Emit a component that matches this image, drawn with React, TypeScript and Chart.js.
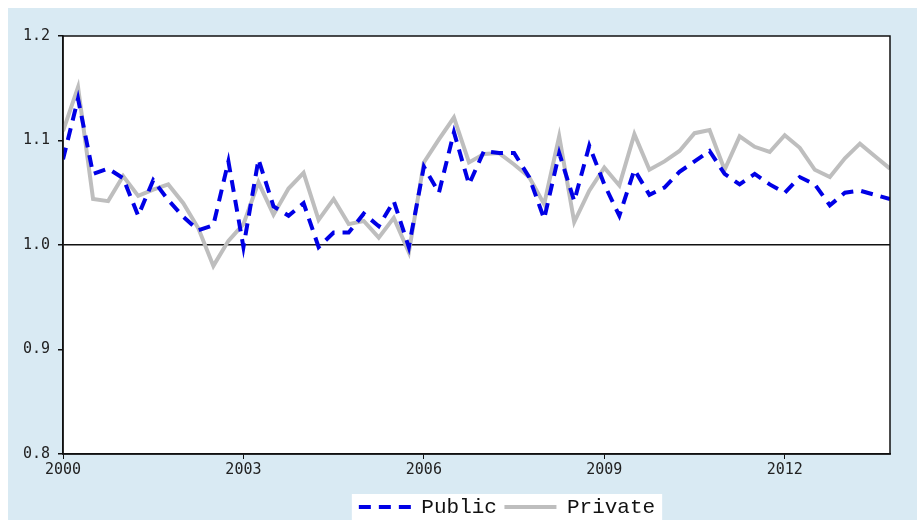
import React, { useEffect, useRef } from 'react';
import { Chart, registerables } from 'chart.js';
Chart.register(...registerables);

// Quarterly observations, 2000Q1 .. 2013Q4
const START_YEAR = 2000;
const QUARTERS_PER_YEAR = 4;
const xTickYears = [2000, 2003, 2006, 2009, 2012];
const yTickValues = [0.8, 0.9, 1.0, 1.1, 1.2];
const seriesNames = ['Public', 'Private'];

const publicValues = [
  1.082, 1.140, 1.068, 1.073, 1.064, 1.028, 1.062, 1.043,
  1.027, 1.014, 1.019, 1.080, 0.998, 1.082, 1.037, 1.028,
  1.040, 0.998, 1.012, 1.012, 1.030, 1.018, 1.042, 0.998,
  1.075, 1.050, 1.108, 1.058, 1.090, 1.088, 1.088, 1.065,
  1.025, 1.088, 1.042, 1.095, 1.058, 1.028, 1.072, 1.048,
  1.055, 1.070, 1.080, 1.090, 1.068, 1.058, 1.068, 1.058,
  1.050, 1.065, 1.058, 1.038, 1.050, 1.052, 1.048, 1.044,
];

const privateValues = [
  1.109, 1.151, 1.044, 1.042, 1.066, 1.047, 1.053, 1.058,
  1.040, 1.016, 0.980, 1.004, 1.020, 1.060, 1.029, 1.054,
  1.069, 1.024, 1.044, 1.020, 1.023, 1.007, 1.026, 0.993,
  1.079, 1.101, 1.122, 1.079, 1.087, 1.088, 1.077, 1.065,
  1.039, 1.104, 1.022, 1.052, 1.074, 1.057, 1.106, 1.072,
  1.080, 1.090, 1.107, 1.110, 1.072, 1.104, 1.094, 1.089,
  1.105, 1.093, 1.072, 1.065, 1.083, 1.097, 1.085, 1.073,
];

const BG = '#d9eaf3';
const BLUE = '#0000e6';
const GRAY = '#bebebe';
const BLUE_DASH = [12, 8];
const TICK_FONT = { family: '"DejaVu Sans Mono", monospace', size: 15 };
const LEGEND_FONT = { family: '"Liberation Mono", "Courier New", monospace', size: 21 };
const LEGEND_PAD = 7.5;

const toPoints = (vals: number[]) =>
  vals.map((y, i) => ({ x: START_YEAR + i / QUARTERS_PER_YEAR, y }));

const framePlugin = {
  id: 'frame',
  afterLayout(chart: any) {
    const lg = chart.legend;
    if (lg) {
      const shift = 499 - (lg.left + lg.right) / 2;
      lg.left += shift;
      lg.right += shift;
    }
  },
  beforeDraw(chart: any) {
    const { ctx, chartArea: a } = chart;
    ctx.save();
    ctx.fillStyle = '#ffffff';
    ctx.fillRect(a.left, a.top, a.right - a.left, a.bottom - a.top);
    const lg = chart.legend;
    if (lg && lg.lineWidths && lg.lineWidths.length) {
      const L = lg.lineWidths[0];
      const sx = (lg.left + LEGEND_PAD + lg.right - L) / 2;
      ctx.fillRect(sx - 7, lg.top + 5, L - LEGEND_PAD + 14, chart.height - lg.top - 5);
    }
    ctx.restore();
  },
  afterDraw(chart: any) {
    const { ctx, chartArea: a } = chart;
    ctx.save();
    ctx.strokeStyle = '#111';
    ctx.lineWidth = 1.5;
    ctx.strokeRect(a.left, a.top, a.right - a.left, a.bottom - a.top);
    ctx.restore();
  },
};

export default function App() {
  const ref = useRef<HTMLCanvasElement | null>(null);
  useEffect(() => {
    if (!ref.current) return;
    const chart = new Chart(ref.current, {
      type: 'line',
      data: {
        datasets: [
          {
            label: seriesNames[0],
            data: toPoints(publicValues),
            borderColor: BLUE,
            backgroundColor: BLUE,
            borderWidth: 4,
            borderDash: BLUE_DASH,
            pointRadius: 0,
            tension: 0,
          },
          {
            label: seriesNames[1],
            data: toPoints(privateValues),
            borderColor: GRAY,
            backgroundColor: GRAY,
            borderWidth: 4,
            pointRadius: 0,
            tension: 0,
          },
        ],
      },
      options: {
        animation: false,
        responsive: true,
        maintainAspectRatio: false,
        events: [],
        layout: { padding: { left: 0, right: 27, top: 28, bottom: 0 } },
        scales: {
          x: {
            type: 'linear',
            min: START_YEAR,
            max: START_YEAR + (publicValues.length - 1) / QUARTERS_PER_YEAR,
            afterBuildTicks: (s: any) => {
              s.ticks = xTickYears.map((value) => ({ value }));
            },
            afterFit: (s: any) => {
              s.height = 35;
            },
            ticks: {
              callback: (v: any) => String(v),
              color: '#222',
              font: TICK_FONT,
              padding: 2,
              maxRotation: 0,
            },
            grid: {
              drawOnChartArea: false,
              drawTicks: true,
              tickLength: 5,
              tickColor: '#111',
            },
            border: { display: true, color: '#111', width: 1.5 },
          },
          y: {
            type: 'linear',
            min: 0.8,
            max: 1.2,
            afterBuildTicks: (s: any) => {
              s.ticks = yTickValues.map((value) => ({ value }));
            },
            afterFit: (s: any) => {
              s.width = 55;
            },
            ticks: {
              callback: (v: any) => Number(v).toFixed(1),
              color: '#222',
              font: TICK_FONT,
              padding: 8,
            },
            grid: {
              color: (c: any) =>
                c.tick && Math.abs(c.tick.value - 1) < 1e-9 ? '#111' : 'rgba(0,0,0,0)',
              lineWidth: 1.5,
              drawTicks: true,
              tickLength: 5,
              tickColor: '#111',
            },
            border: { display: true, color: '#111', width: 1.5 },
          },
        },
        plugins: {
          legend: {
            display: true,
            position: 'bottom',
            maxHeight: 31,
            labels: {
              usePointStyle: true,
              pointStyle: 'line',
              pointStyleWidth: 52,
              padding: LEGEND_PAD,
              color: '#111',
              font: LEGEND_FONT,
              generateLabels: (ch: any) => {
                const items = Chart.defaults.plugins.legend.labels.generateLabels(ch);
                return items.map((it: any) => {
                  const ds: any = ch.data.datasets[it.datasetIndex];
                  return {
                    ...it,
                    strokeStyle: ds.borderColor,
                    fillStyle: ds.borderColor,
                    lineWidth: 4,
                    lineDash: ds.borderDash || [],
                    pointStyle: 'line',
                  };
                });
              },
            },
          },
          tooltip: { enabled: false },
        },
      },
      plugins: [framePlugin],
    });
    return () => chart.destroy();
  }, []);

  return (
    <div
      style={{
        position: 'fixed',
        left: 8,
        top: 8,
        width: 909,
        height: 512,
        background: BG,
      }}
    >
      <canvas ref={ref} />
    </div>
  );
}
